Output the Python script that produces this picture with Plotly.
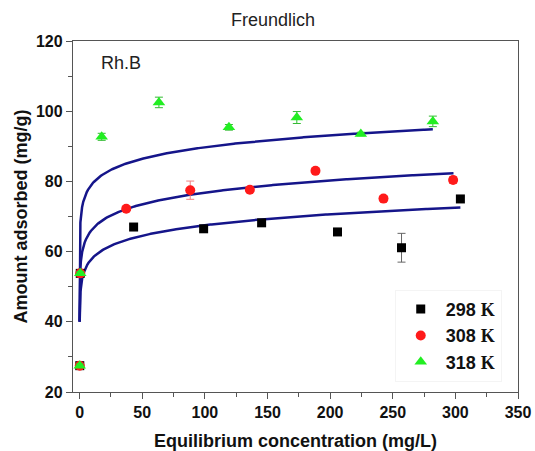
import numpy as np
import plotly.graph_objects as go

# Measured equilibrium data (Ce in mg/L, qe in mg/g) with standard deviations
ce_298 = [0.1, 0.5, 43.1, 99.0, 145.3, 205.9, 257.0, 304.0]
qe_298 = [27.5, 53.8, 67.0, 66.5, 68.2, 65.6, 61.1, 75.0]
sd_298 = [0.5, 0.5, 0.8, 0.8, 0.8, 0.8, 4.1, 0.6]

ce_308 = [0.1, 0.5, 37.2, 88.3, 135.9, 188.3, 242.6, 298.2]
qe_308 = [27.5, 53.8, 72.2, 77.5, 77.6, 83.0, 75.1, 80.4]
sd_308 = [0.5, 0.5, 0.6, 2.6, 0.5, 0.5, 0.8, 1.0]

ce_318 = [0.1, 0.5, 17.6, 63.3, 119.2, 173.4, 224.5, 282.0]
qe_318 = [27.5, 53.8, 92.7, 102.5, 95.4, 98.2, 93.5, 97.1]
sd_318 = [0.5, 0.5, 1.0, 1.5, 0.8, 1.7, 0.5, 1.5]

# Freundlich fit parameters: qe = KF * Ce^(1/n)
kf = {"298": 50.0, "308": 57.3, "318": 70.1}
inv_n = {"298": 0.0652, "308": 0.0636, "318": 0.0536}
ce_start = {"298": 0.033, "308": 0.0035, "318": 3e-5}
ce_end = {"298": 304.0, "308": 298.5, "318": 282.0}

x_ticks = [0, 50, 100, 150, 200, 250, 300, 350]
y_ticks = [20, 40, 60, 80, 100, 120]

FONT = "Liberation Sans, Arial, sans-serif"
FIT_COLOR = "#15158a"

fig = go.Figure()

# Fitted isotherms
for key in ["298", "308", "318"]:
    c = np.concatenate([np.geomspace(ce_start[key], 1.0, 120),
                        np.linspace(1.0, ce_end[key], 300)[1:]])
    q = kf[key] * c ** inv_n[key]
    fig.add_trace(go.Scatter(x=c, y=q, mode="lines",
                             line=dict(color=FIT_COLOR, width=2.5),
                             showlegend=False, hoverinfo="skip"))

def k_label(t):
    return f"<b>{t} <span style='font-family:Liberation Serif, Times New Roman, serif'>K</span></b>"

fig.add_trace(go.Scatter(
    x=ce_298, y=qe_298, mode="markers", name=k_label(298),
    marker=dict(symbol="square", size=9, color="black"),
    error_y=dict(type="data", array=sd_298, color="#666666", thickness=1, width=4)))
fig.add_trace(go.Scatter(
    x=ce_308, y=qe_308, mode="markers", name=k_label(308),
    marker=dict(symbol="circle", size=10, color="#ff1a1a"),
    error_y=dict(type="data", array=sd_308, color="#f08080", thickness=1, width=4)))
fig.add_trace(go.Scatter(
    x=ce_318, y=qe_318, mode="markers", name=k_label(318),
    marker=dict(symbol="triangle-up", size=11, color="#22ee22"),
    error_y=dict(type="data", array=sd_318, color="#33bb33", thickness=1, width=4)))

axis_common = dict(
    showline=True, linecolor="#555555", linewidth=1.3, mirror=True,
    ticks="outside", ticklen=6, tickwidth=1.3, tickcolor="#555555",
    showgrid=False, zeroline=False, automargin=False,
    tickfont=dict(family=FONT, size=16, color="#111111", weight="bold"),
    minor=dict(ticks="outside", ticklen=4, tickwidth=1.3, tickcolor="#555555"),
)

fig.update_xaxes(
    range=[-5.3, 350], tickvals=x_ticks,
    minor_dtick=25, minor_tick0=0,
    title=dict(text="<b>Equilibrium concentration (mg/L)</b>",
               font=dict(family=FONT, size=18, color="#111111"), standoff=15),
    **axis_common)
fig.update_yaxes(
    range=[20, 120], tickvals=y_ticks,
    minor_dtick=10, minor_tick0=0,
    title=dict(text="<b>Amount adsorbed (mg/g)</b>",
               font=dict(family=FONT, size=18, color="#111111"), standoff=3),
    **axis_common)

fig.add_annotation(text="Rh.B", xref="paper", yref="paper",
                   x=0.058, y=0.936, xanchor="left", yanchor="middle",
                   showarrow=False,
                   font=dict(family=FONT, size=18, color="#222222"))

fig.update_layout(
    width=535, height=451,
    margin=dict(l=73, r=17, t=41, b=59),
    paper_bgcolor="white", plot_bgcolor="white",
    title=dict(text="Freundlich", x=273 / 535, xanchor="center",
               y=1 - 20 / 451, yanchor="middle",
               font=dict(family=FONT, size=18, color="#222222")),
    legend=dict(x=0.723, y=0.291, xanchor="left", yanchor="top",
                bordercolor="#f4f4f4", borderwidth=1, bgcolor="white",
                font=dict(family=FONT, size=18, color="#111111"),
                itemwidth=40),
    showlegend=True,
)

fig.write_html("out.html")
